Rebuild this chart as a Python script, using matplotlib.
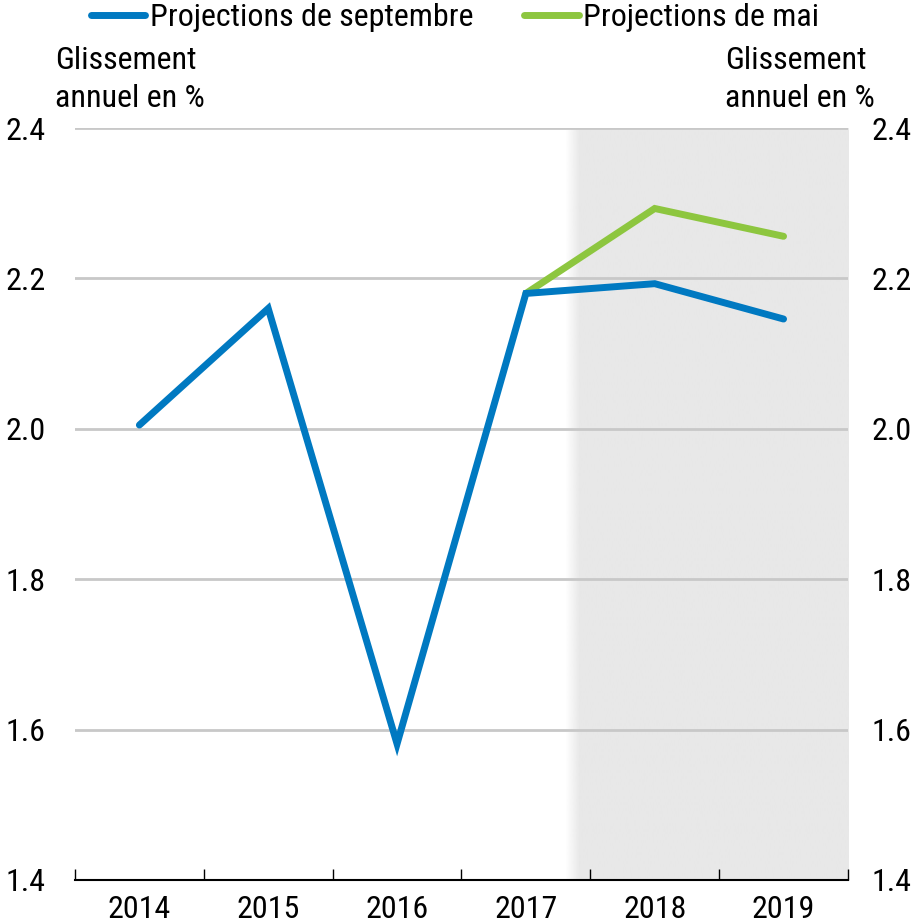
import numpy as np
import matplotlib.pyplot as plt
from matplotlib.lines import Line2D

plt.rcParams['font.family'] = ['Liberation Sans Narrow', 'Roboto Condensed', 'Liberation Sans', 'DejaVu Sans']

annees = ['2014', '2015', '2016', '2017', '2018', '2019']
proj_septembre = [2.005, 2.160, 1.581, 2.180, 2.193, 2.146]
proj_mai = [None, None, None, 2.180, 2.293, 2.256]
yticks = [1.4, 1.6, 1.8, 2.0, 2.2, 2.4]

bleu = '#0079c1'
vert = '#8dc63f'
taille = 23

fig = plt.figure(figsize=(9.12, 9.23), dpi=100)
ax = fig.add_axes([0.0822, 0.0466, 0.8476, 0.8147])

x = np.arange(len(annees))

# zone de projection (ombrée, bord adouci)
debut = 3.30
fin = 5.5
grad = np.ones((1, 200, 4))
grad[..., :3] = 232 / 255
t = np.linspace(0, 1, 200)
grad[0, :, 3] = np.clip(t / 0.05, 0, 1)
ax.imshow(grad, extent=[debut, fin, 1.4, 2.4], aspect='auto', zorder=0, interpolation='bilinear')

for yv in yticks[1:]:
    ax.axhline(yv, color='#c8c8c8', lw=2, zorder=1)

ax.plot(x, proj_septembre, color=bleu, lw=5, solid_capstyle='round', solid_joinstyle='miter', zorder=3)
xm = [xi for xi, v in zip(x, proj_mai) if v is not None]
ym = [v for v in proj_mai if v is not None]
ax.plot(xm, ym, color=vert, lw=5, solid_capstyle='round', solid_joinstyle='miter', zorder=2)

ax.set_xlim(-0.5, 5.5)
ax.set_ylim(1.4, 2.4)
for s in ['left', 'right', 'top']:
    ax.spines[s].set_visible(False)
ax.spines['bottom'].set_linewidth(1.5)
ax.spines['bottom'].set_zorder(4)

ax.set_xticks(x)
ax.set_xticklabels(annees, fontsize=taille)
ax.tick_params(axis='x', length=0, pad=11)
ax.set_xticks(np.arange(-0.5, 6, 1), minor=True)
ax.tick_params(axis='x', which='minor', direction='in', length=8, width=1)

ax.set_yticks(yticks)
ax.set_yticklabels([f'{v:.1f}' for v in yticks], fontsize=taille)
ax.tick_params(axis='y', length=0, pad=21)

ax2 = ax.twinx()
ax2.set_ylim(1.4, 2.4)
ax2.set_yticks(yticks)
ax2.set_yticklabels([f'{v:.1f}' for v in yticks], fontsize=taille)
ax2.tick_params(axis='y', length=0, pad=17)
for s in ax2.spines.values():
    s.set_visible(False)

fig.text(55 / 912, 1 - 46 / 923, 'Glissement\nannuel en %', fontsize=taille, va='top', ha='left', linespacing=1.38)
fig.text(725 / 912, 1 - 46 / 923, 'Glissement\nannuel en %', fontsize=taille, va='top', ha='left', linespacing=1.38)

handles = [Line2D([], [], color=bleu, lw=5, solid_capstyle='round'),
           Line2D([], [], color=vert, lw=5, solid_capstyle='round')]
fig.legend(handles, ['Projections de septembre', 'Projections de mai'],
           loc='center', bbox_to_anchor=(455 / 912, 1 - 18 / 923), ncol=2, frameon=False,
           fontsize=taille, handlelength=1.7, handletextpad=0.15, columnspacing=1.6,
           borderpad=0, borderaxespad=0)

fig.savefig('out.png', dpi=100)
